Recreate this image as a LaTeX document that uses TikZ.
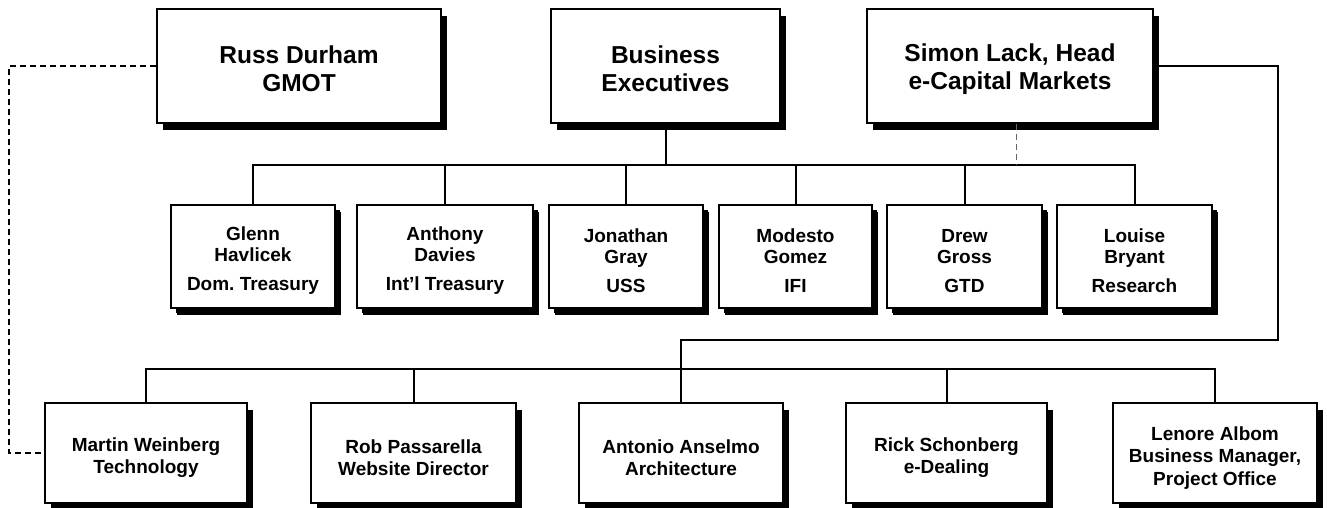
\documentclass[tikz,border=0pt]{standalone}
\usepackage{fontspec}
\setmainfont{Liberation Sans}
\usetikzlibrary{shadows}
\newcommand{\dropline}[1]{\rule{0pt}{#1}}

\begin{document}
\begin{tikzpicture}[x=1pt, y=-1pt,
                headbox/.style={draw, line width=2pt, fill=white, align=center, inner sep=0pt,
                    drop shadow={opacity=1, fill=black, shadow xshift=6pt, shadow yshift=-7pt}},
                topbox/.style={headbox, minimum height=114pt, font=\bfseries\fontsize{24.5}{28}\selectfont},
                midbox/.style={headbox, minimum height=103pt, font=\bfseries\fontsize{19}{21}\selectfont,
                    drop shadow={opacity=1, fill=black, shadow xshift=5pt, shadow yshift=-5pt}},
                lowbox/.style={headbox, minimum height=100pt, font=\bfseries\fontsize{19}{22.5}\selectfont},
                wire/.style={line width=2pt},
                link/.style={line width=1.5pt, dash pattern=on 6pt off 4pt}]
                \useasboundingbox (0,0) rectangle (1327,508);
                % Boxes:
                \node[topbox, minimum width=284pt] (russ) at (299,66) {\dropline{23.5pt}Russ Durham\\GMOT};
                \node[topbox, minimum width=229pt] (biz) at (665.5,66) {\dropline{23.5pt}Business\\Executives};
                \node[topbox, minimum width=286pt] (simon) at (1010,66) {\dropline{23.5pt}Simon Lack, Head\\e-Capital Markets};
                \node[midbox, minimum width=164pt] (glenn) at (253,256.5) {\dropline{22.5pt}Glenn\\Havlicek\\[8pt]Dom.\ Treasury};
                \node[midbox, minimum width=176pt] (anthony) at (445,256.5) {\dropline{22.5pt}Anthony\\Davies\\[8pt]Int’l Treasury};
                \node[midbox, minimum width=154pt] (jonathan) at (626,256.5) {\dropline{22.5pt}Jonathan\\Gray\\[8pt]USS};
                \node[midbox, minimum width=153pt] (modesto) at (795.5,256.5) {\dropline{22.5pt}Modesto\\Gomez\\[8pt]IFI};
                \node[midbox, minimum width=155pt] (drew) at (964.5,256.5) {\dropline{22.5pt}Drew\\Gross\\[8pt]GTD};
                \node[midbox, minimum width=155pt] (louise) at (1134.5,256.5) {\dropline{22.5pt}Louise\\Bryant\\[8pt]Research};
                \node[lowbox, minimum width=202pt] (martin) at (146,453) {\dropline{23pt}Martin Weinberg\\Technology};
                \node[lowbox, minimum width=205pt] (rob) at (413.5,453) {\dropline{23pt}Rob Passarella\\Website Director};
                \node[lowbox, minimum width=204pt] (antonio) at (681,453) {\dropline{23pt}Antonio Anselmo\\Architecture};
                \node[lowbox, minimum width=201pt] (rick) at (946.5,453) {\dropline{23pt}Rick Schonberg\\e-Dealing};
                \node[lowbox, minimum width=204pt] (lenore) at (1215,453) {\dropline{23pt}Lenore Albom\\Business Manager,\\Project Office};
                % Wires:
                \coordinate (mbus) at (0,165);
                \coordinate (lbus) at (0,369);
                \coordinate (rturn) at (1278,340);
                \coordinate (dleft) at (9,0);
                \draw[wire] (biz.south) -- (biz.south |- mbus);
                \draw[wire] (glenn.north) -- (glenn.north |- mbus) -| (louise.north);
                \foreach \n in {anthony, jonathan, modesto, drew}
                    \draw[wire] (\n.north) -- (\n.north |- mbus);
                \draw[link, line width=1pt, black!60] ([xshift=6pt]simon.south) -- ([xshift=6pt]simon.south |- mbus);
                \draw[wire] (simon.east) -| (rturn) -| (antonio.north);
                \draw[wire] (martin.north) -- (martin.north |- lbus) -| (lenore.north);
                \foreach \n in {rob, rick}
                    \draw[wire] (\n.north) -- (\n.north |- lbus);
                \draw[link] (russ.west) -- (russ.west -| dleft) |- (martin.west);
            \end{tikzpicture}
\end{document}
